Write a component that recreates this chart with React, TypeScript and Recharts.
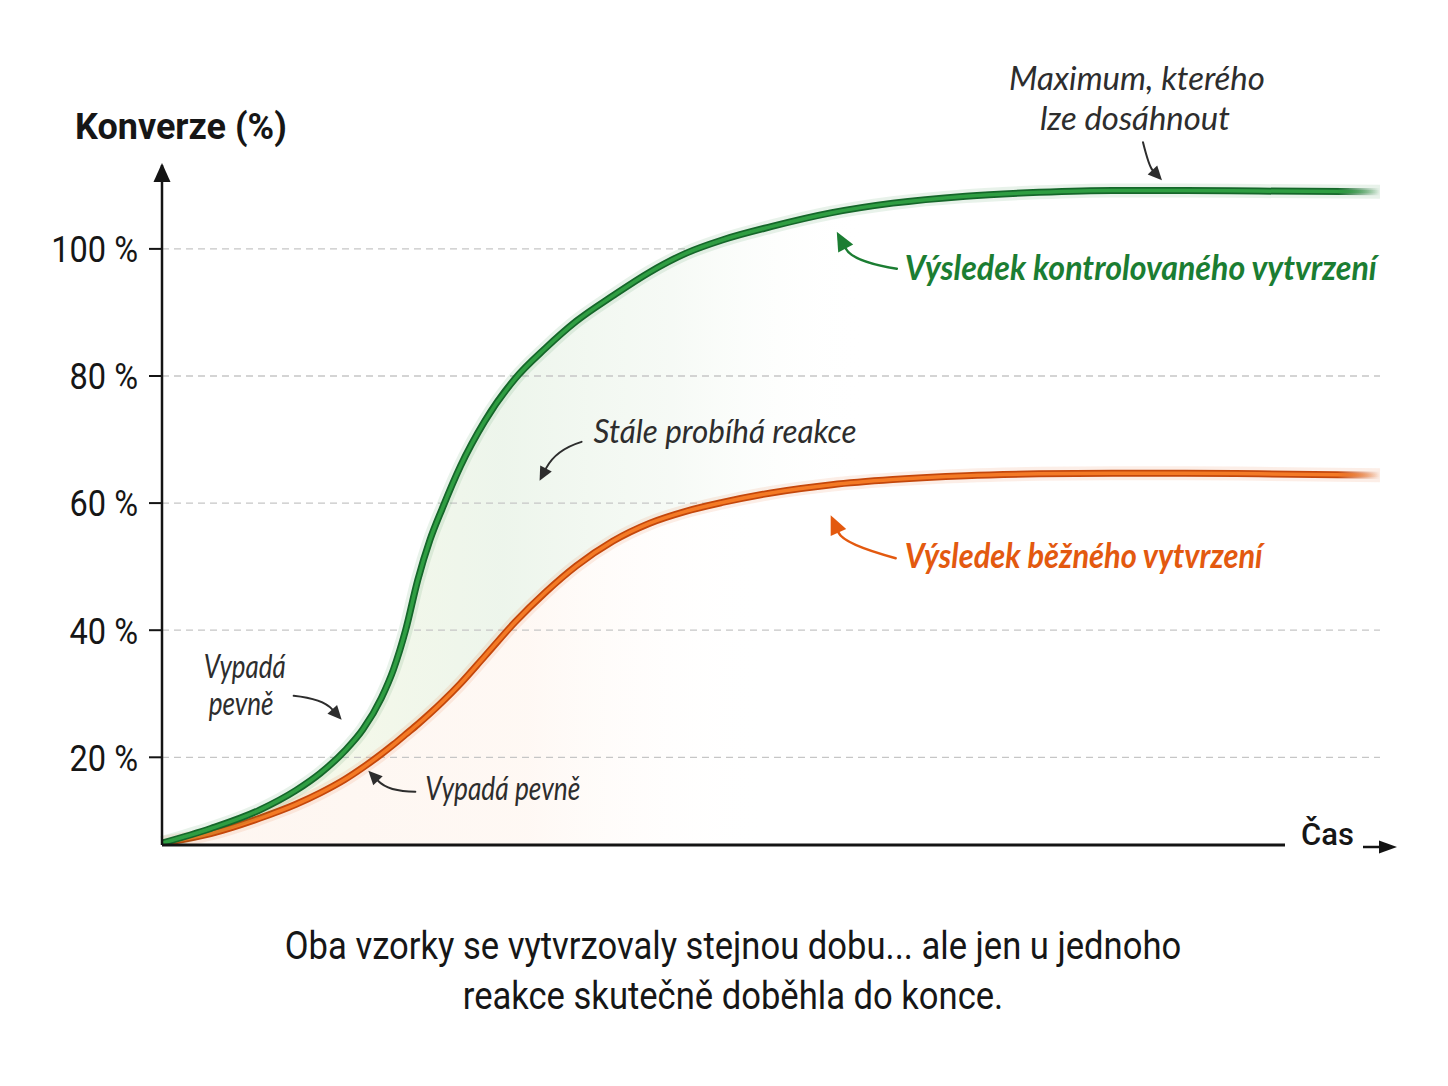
import React from 'react';
import { ComposedChart, Line, Area, XAxis, YAxis, ReferenceLine, ReferenceDot } from 'recharts';

// time (arbitrary units 0-100) and conversion in %
const time = [0, 4, 8, 11, 13, 15, 16.5, 18, 19, 20, 21, 22, 23, 24.5, 26.5, 29, 31.5, 34, 37, 40, 43, 46, 50, 55, 60, 66, 72, 78, 84, 90, 100];
const controlled = [6.5, 8.8, 11.7, 14.8, 17.5, 21.0, 24.4, 29.3, 33.8, 40.0, 47.9, 54.2, 59.1, 65.8, 72.9, 79.6, 84.4, 88.6, 92.6, 96.3, 99.3, 101.4, 103.5, 105.7, 107.2, 108.3, 108.9, 109.2, 109.2, 109.1, 109.0];
const standard = [6.5, 8.0, 10.4, 12.6, 14.4, 16.5, 18.4, 20.5, 22.0, 23.6, 25.2, 26.9, 28.7, 31.6, 35.9, 41.3, 46.0, 50.1, 54.0, 56.8, 58.7, 60.1, 61.6, 62.9, 63.7, 64.3, 64.6, 64.7, 64.7, 64.6, 64.4];
const yTicks = [20, 40, 60, 80, 100];
const yDomain: [number, number] = [6.2, 113.2];

const data = time.map((t, i) => ({
  t,
  controlled: controlled[i],
  standard: standard[i],
  band: [standard[i], controlled[i]],
}));

const ink = '#2d2d2d';
const green = '#1b7d32';
const orange = '#e3590f';
const noteFont = "Lato, 'Open Sans', sans-serif";

function head(tx: number, ty: number, fx: number, fy: number, len: number, half: number) {
  const a = Math.atan2(ty - fy, tx - fx);
  const bx = tx - len * Math.cos(a);
  const by = ty - len * Math.sin(a);
  const px = -Math.sin(a) * half;
  const py = Math.cos(a) * half;
  return { pts: `${tx},${ty} ${bx + px},${by + py} ${bx - px},${by - py}`, bx, by };
}

// curved arrow, tip at (x, y); start and control point relative to tip
function Arrow({ x, y, s, q, color = ink, len = 14, half = 6.5, w = 2 }: any) {
  const h = head(x, y, x + q[0], y + q[1], len, half);
  return (
    <g>
      <path d={`M${x + s[0]},${y + s[1]} Q${x + q[0]},${y + q[1]} ${h.bx},${h.by}`} fill="none" stroke={color} strokeWidth={w} strokeLinecap="round" />
      <polygon points={h.pts} fill={color} />
    </g>
  );
}

function Note({ x, y, children, len, size = 33, bold = false, fill = ink }: any) {
  return (
    <text x={x} y={y} fontFamily={noteFont} fontStyle="italic" fontWeight={bold ? 700 : 400} fontSize={size} fill={fill} textLength={len} lengthAdjust="spacingAndGlyphs">
      {children}
    </text>
  );
}

const YTick = (props: any) => {
  const { x, y, payload } = props;
  return (
    <g transform={`translate(${x},${y})`}>
      <text x={0} y={0} dy="0.36em" textAnchor="end" fontFamily="Roboto, sans-serif" fontSize={37} fill="#161616" transform="scale(0.88,1)">
        {payload.value} %
      </text>
    </g>
  );
};

const yHead = (p: any) => (
  <g>
    <polygon points={`${p.cx},${p.cy - 2} ${p.cx - 8.5},${p.cy + 17} ${p.cx + 8.5},${p.cy + 17}`} fill="#141414" />
    <text x={p.cx - 87} y={p.cy - 26} fontFamily="Roboto, sans-serif" fontWeight={700} fontSize={36} fill="#161616">
      Konverze (%)
    </text>
  </g>
);

const xHead = (p: any) => (
  <g>
    <text x={p.cx + 16} y={p.cy} fontFamily="Roboto, sans-serif" fontWeight={500} fontSize={31} fill="#161616">
      Čas
    </text>
    <line x1={p.cx + 78} y1={p.cy + 2} x2={p.cx + 96} y2={p.cy + 2} stroke="#141414" strokeWidth={2.5} />
    <polygon points={`${p.cx + 112},${p.cy + 2} ${p.cx + 94},${p.cy - 4.5} ${p.cx + 94},${p.cy + 8.5}`} fill="#141414" />
  </g>
);

const maxNote = (p: any) => (
  <g>
    <Note x={p.cx - 153} y={p.cy - 90} len={256}>Maximum, kterého</Note>
    <Note x={p.cx - 122} y={p.cy - 50} len={190}>lze dosáhnout</Note>
    <Arrow x={p.cx} y={p.cy} s={[-19, -38]} q={[-13, -14]} />
  </g>
);

const greenNote = (p: any) => (
  <g>
    <Note x={p.cx + 68} y={p.cy + 48} len={472} size={34} bold fill={green}>Výsledek kontrolovaného vytvrzení</Note>
    <Arrow x={p.cx} y={p.cy} s={[60, 37]} q={[16, 30]} color={green} len={19} half={8.5} w={2.5} />
  </g>
);

const orangeNote = (p: any) => (
  <g>
    <Note x={p.cx + 74} y={p.cy + 53} len={358} size={34} bold fill={orange}>Výsledek běžného vytvrzení</Note>
    <Arrow x={p.cx} y={p.cy} s={[65, 43]} q={[13, 29]} color={orange} len={19} half={8.5} w={2.5} />
  </g>
);

const runningNote = (p: any) => (
  <g>
    <Note x={p.cx + 54} y={p.cy - 38} len={263}>Stále probíhá reakce</Note>
    <Arrow x={p.cx} y={p.cy} s={[42, -39]} q={[16, -31]} />
  </g>
);

const solidNoteA = (p: any) => (
  <g>
    <Note x={p.cx - 138} y={p.cy - 42} len={82}>Vypadá</Note>
    <Note x={p.cx - 133} y={p.cy - 5} len={65}>pevně</Note>
    <Arrow x={p.cx} y={p.cy} s={[-48, -24]} q={[-19, -21]} />
  </g>
);

const solidNoteB = (p: any) => (
  <g>
    <Note x={p.cx + 57} y={p.cy + 29} len={155}>Vypadá pevně</Note>
    <Arrow x={p.cx} y={p.cy} s={[47, 21]} q={[20, 21]} />
  </g>
);

const grid = { stroke: '#c6c6c6', strokeWidth: 1.3, strokeDasharray: '7 5' };

export default function App() {
  return (
    <div style={{ position: 'absolute', left: 0, top: 0, width: 1448, height: 1086, background: '#fff' }}>
      <ComposedChart width={1448} height={1086} data={data} margin={{ top: 165, right: 68, bottom: 241, left: 62 }}>
        <defs>
          <linearGradient id="gOut" x1="0" y1="0" x2="1" y2="0">
            <stop offset="0" stopColor="#15672a" />
            <stop offset="0.965" stopColor="#15672a" />
            <stop offset="1" stopColor="#15672a" stopOpacity={0} />
          </linearGradient>
          <linearGradient id="gIn" x1="0" y1="0" x2="1" y2="0">
            <stop offset="0" stopColor="#2f9e42" />
            <stop offset="0.965" stopColor="#2f9e42" />
            <stop offset="1" stopColor="#2f9e42" stopOpacity={0} />
          </linearGradient>
          <linearGradient id="oOut" x1="0" y1="0" x2="1" y2="0">
            <stop offset="0" stopColor="#c4470b" />
            <stop offset="0.965" stopColor="#c4470b" />
            <stop offset="1" stopColor="#c4470b" stopOpacity={0} />
          </linearGradient>
          <linearGradient id="oIn" x1="0" y1="0" x2="1" y2="0">
            <stop offset="0" stopColor="#f47a25" />
            <stop offset="0.965" stopColor="#f47a25" />
            <stop offset="1" stopColor="#f47a25" stopOpacity={0} />
          </linearGradient>
          <linearGradient id="bandFill" x1="0" y1="0" x2="1" y2="0">
            <stop offset="0.12" stopColor="#eef3d6" stopOpacity={0.9} />
            <stop offset="0.28" stopColor="#dcecd9" stopOpacity={0.85} />
            <stop offset="0.42" stopColor="#e4f0e2" stopOpacity={0.55} />
            <stop offset="0.58" stopColor="#ffffff" stopOpacity={0} />
          </linearGradient>
          <linearGradient id="orFill" x1="0" y1="0" x2="1" y2="0">
            <stop offset="0.08" stopColor="#fbe2d0" stopOpacity={0.5} />
            <stop offset="0.3" stopColor="#fde6d6" stopOpacity={0.45} />
            <stop offset="0.5" stopColor="#ffffff" stopOpacity={0} />
          </linearGradient>
        </defs>

        <XAxis dataKey="t" type="number" domain={[0, 100]} hide />
        <YAxis
          type="number"
          domain={yDomain}
          ticks={yTicks}
          width={100}
          allowDataOverflow
          axisLine={{ stroke: '#141414', strokeWidth: 2.5 }}
          tickLine={{ stroke: '#141414', strokeWidth: 2 }}
          tickSize={13}
          tickMargin={11}
          tick={<YTick />}
        />

        <ReferenceLine segment={[{ x: 0, y: 20 }, { x: 100, y: 20 }]} {...grid} />
        <ReferenceLine segment={[{ x: 0, y: 40 }, { x: 100, y: 40 }]} {...grid} />
        <ReferenceLine segment={[{ x: 0, y: 60 }, { x: 46.4, y: 60 }]} {...grid} />
        <ReferenceLine segment={[{ x: 0, y: 80 }, { x: 100, y: 80 }]} {...grid} />
        <ReferenceLine segment={[{ x: 0, y: 100 }, { x: 43.6, y: 100 }]} {...grid} />

        <Area type="monotone" dataKey="standard" baseValue={6.2} fill="url(#orFill)" stroke="none" isAnimationActive={false} activeDot={false} />
        <Area type="monotone" dataKey="band" fill="url(#bandFill)" stroke="none" isAnimationActive={false} activeDot={false} />

        <Line type="monotone" dataKey="standard" stroke="#e3590f" strokeOpacity={0.1} strokeWidth={14} dot={false} activeDot={false} isAnimationActive={false} />
        <Line type="monotone" dataKey="standard" stroke="url(#oOut)" strokeWidth={7} dot={false} activeDot={false} isAnimationActive={false} />
        <Line type="monotone" dataKey="standard" stroke="url(#oIn)" strokeWidth={3.5} dot={false} activeDot={false} isAnimationActive={false} />
        <Line type="monotone" dataKey="controlled" stroke="#1b7d32" strokeOpacity={0.1} strokeWidth={14} dot={false} activeDot={false} isAnimationActive={false} />
        <Line type="monotone" dataKey="controlled" stroke="url(#gOut)" strokeWidth={7} dot={false} activeDot={false} isAnimationActive={false} />
        <Line type="monotone" dataKey="controlled" stroke="url(#gIn)" strokeWidth={3.5} dot={false} activeDot={false} isAnimationActive={false} />

        <ReferenceLine segment={[{ x: 0, y: 6.2 }, { x: 92.2, y: 6.2 }]} stroke="#141414" strokeWidth={3} />
        <ReferenceDot x={0} y={113.2} r={0} ifOverflow="visible" shape={yHead} />
        <ReferenceDot x={92.2} y={6.2} r={0} ifOverflow="visible" shape={xHead} />

        <ReferenceDot x={82.1} y={110.8} r={0} ifOverflow="visible" shape={maxNote} />
        <ReferenceDot x={55.4} y={102.7} r={0} ifOverflow="visible" shape={greenNote} />
        <ReferenceDot x={54.9} y={58.1} r={0} ifOverflow="visible" shape={orangeNote} />
        <ReferenceDot x={31.0} y={63.5} r={0} ifOverflow="visible" shape={runningNote} />
        <ReferenceDot x={14.75} y={25.9} r={0} ifOverflow="visible" shape={solidNoteA} />
        <ReferenceDot x={16.94} y={17.9} r={0} ifOverflow="visible" shape={solidNoteB} />
      </ComposedChart>
      <div
        style={{
          position: 'absolute',
          left: 9,
          top: 921,
          width: 1448,
          textAlign: 'center',
          fontFamily: 'Roboto, sans-serif',
          fontSize: 38,
          lineHeight: '50px',
          color: '#161616',
          transform: 'scaleX(0.91)',
        }}
      >
        Oba vzorky se vytvrzovaly stejnou dobu... ale jen u jednoho
        <br />
        reakce skutečně doběhla do konce.
      </div>
    </div>
  );
}
